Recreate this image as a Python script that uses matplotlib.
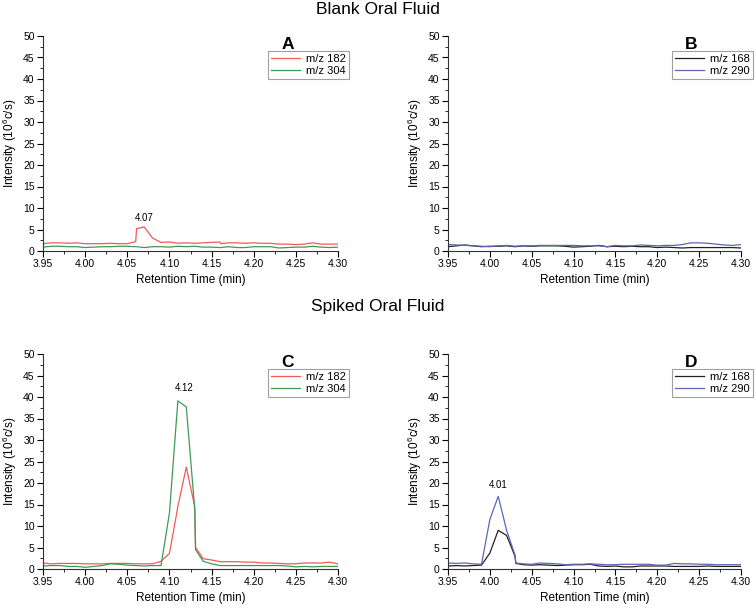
import numpy as np
import matplotlib
matplotlib.use("Agg")
import matplotlib.pyplot as plt
from matplotlib.ticker import MultipleLocator

plt.rcParams['font.family'] = ['Liberation Sans', 'DejaVu Sans']
plt.rcParams['mathtext.fontset'] = 'custom'
plt.rcParams['mathtext.rm'] = 'Liberation Sans'

# retention time grid (min); extra points where the trace jumps vertically
t_a = [3.95, 3.96, 3.97, 3.98, 3.99, 4.00, 4.01, 4.02, 4.03, 4.04, 4.05, 4.06, 4.061, 4.07, 4.08,
       4.09, 4.10, 4.11, 4.12, 4.13, 4.14, 4.15, 4.16, 4.161, 4.17, 4.18, 4.19, 4.20, 4.21, 4.22,
       4.23, 4.24, 4.25, 4.26, 4.27, 4.28, 4.29, 4.30]
a_182 = [1.7, 1.9, 1.9, 1.8, 1.9, 1.7, 1.7, 1.7, 1.8, 1.7, 1.7, 2.2, 5.2, 5.6, 3.0,
         2.0, 2.1, 1.8, 1.9, 1.8, 1.9, 2.0, 2.1, 1.7, 1.9, 1.9, 1.8, 1.9, 1.8, 1.8,
         1.6, 1.6, 1.5, 1.6, 1.9, 1.6, 1.6, 1.6]
a_304 = [0.9, 1.1, 1.1, 1.0, 1.0, 0.8, 0.9, 1.0, 1.0, 1.1, 1.1, 1.0, 1.0, 0.8, 1.0,
         1.0, 0.9, 1.1, 1.0, 1.1, 0.9, 0.9, 0.8, 0.8, 1.0, 0.8, 0.8, 1.0, 1.0, 1.0,
         0.7, 0.8, 0.9, 0.9, 1.1, 0.9, 0.8, 0.9]

t_b = [3.95, 3.96, 3.97, 3.98, 3.99, 4.00, 4.01, 4.02, 4.03, 4.04, 4.05, 4.06, 4.07, 4.08, 4.09,
       4.10, 4.11, 4.12, 4.13, 4.14, 4.15, 4.16, 4.17, 4.18, 4.19, 4.20, 4.21, 4.22, 4.23, 4.24,
       4.25, 4.26, 4.27, 4.28, 4.29, 4.30]
b_168 = [1.0, 1.2, 1.4, 1.2, 1.0, 1.1, 1.1, 1.2, 1.0, 1.2, 1.1, 1.2, 1.2, 1.2, 1.1,
         0.9, 1.0, 1.1, 1.3, 1.0, 1.1, 1.0, 1.1, 1.0, 1.0, 0.8, 0.9, 0.8, 0.7, 0.8,
         0.8, 0.8, 0.8, 0.8, 0.8, 0.7]
b_290 = [1.5, 1.4, 1.3, 1.2, 1.1, 1.0, 1.2, 1.3, 1.1, 1.2, 1.2, 1.3, 1.3, 1.3, 1.3,
         1.3, 1.2, 1.2, 1.2, 1.0, 1.3, 1.2, 1.2, 1.4, 1.3, 1.2, 1.3, 1.3, 1.5, 1.9,
         1.9, 1.8, 1.6, 1.4, 1.3, 1.5]

t_c = [3.95, 3.96, 3.97, 3.98, 3.99, 4.00, 4.01, 4.02, 4.03, 4.04, 4.05, 4.06, 4.07, 4.08, 4.09,
       4.10, 4.11, 4.12, 4.13, 4.131, 4.14, 4.15, 4.16, 4.17, 4.18, 4.19, 4.20, 4.21, 4.22, 4.23,
       4.24, 4.25, 4.26, 4.27, 4.28, 4.29, 4.30]
c_182 = [1.4, 1.2, 1.3, 1.3, 1.3, 1.2, 1.2, 1.2, 1.3, 1.3, 1.3, 1.2, 1.2, 1.2, 1.8,
         3.6, 14.5, 23.7, 14.5, 5.0, 2.4, 2.1, 1.7, 1.7, 1.7, 1.6, 1.6, 1.4, 1.4, 1.3,
         1.2, 1.2, 1.4, 1.4, 1.4, 1.6, 1.2]
c_304 = [0.7, 0.8, 0.8, 0.6, 0.6, 0.4, 0.6, 0.8, 1.2, 1.1, 0.9, 0.8, 0.7, 0.8, 0.8,
         13.0, 39.1, 37.7, 14.0, 4.5, 1.8, 1.2, 0.8, 0.8, 0.8, 0.8, 0.8, 0.8, 0.8, 0.8,
         0.7, 0.5, 0.6, 0.5, 0.6, 0.6, 0.6]

t_d = [3.95, 3.96, 3.97, 3.98, 3.99, 4.00, 4.01, 4.02, 4.03, 4.031, 4.04, 4.05, 4.06, 4.07, 4.08,
       4.09, 4.10, 4.11, 4.12, 4.13, 4.14, 4.15, 4.16, 4.17, 4.18, 4.19, 4.20, 4.21, 4.22, 4.23,
       4.24, 4.25, 4.26, 4.27, 4.28, 4.29, 4.30]
d_168 = [0.7, 0.8, 0.7, 0.8, 0.9, 3.7, 9.0, 7.8, 3.0, 1.3, 1.0, 0.9, 1.0, 0.9, 0.8,
         0.9, 1.0, 1.0, 1.1, 0.7, 0.6, 0.7, 0.5, 0.5, 0.7, 0.7, 0.7, 0.7, 0.6, 0.6,
         0.6, 0.6, 0.7, 0.6, 0.6, 0.6, 0.6]
d_290 = [1.4, 1.3, 1.4, 1.2, 1.1, 11.5, 16.9, 9.0, 3.3, 1.4, 1.2, 1.1, 1.4, 1.3, 1.2,
         1.0, 1.1, 1.1, 1.2, 1.1, 1.0, 1.0, 1.1, 1.1, 1.1, 1.1, 0.9, 0.9, 1.3, 1.2,
         1.2, 1.1, 1.1, 1.0, 1.0, 1.0, 1.0]

RED = "#f25a5a"
GREEN = "#3f9a55"
BLACK = "#222222"
BLUE = "#5a68b4"

W, H = 756, 609
fig = plt.figure(figsize=(W / 100, H / 100), dpi=100)


def make_ax(left, top, right, bottom):
    ax = fig.add_axes([left / W, 1 - bottom / H, (right - left) / W, (bottom - top) / H])
    ax.set_xlim(3.95, 4.30)
    ax.set_ylim(0, 50)
    ax.spines['top'].set_visible(False)
    ax.spines['right'].set_visible(False)
    for s in ('left', 'bottom'):
        ax.spines[s].set_linewidth(0.8)
        ax.spines[s].set_color('#333333')
    ax.xaxis.set_major_locator(MultipleLocator(0.05))
    ax.xaxis.set_minor_locator(MultipleLocator(0.025))
    ax.yaxis.set_major_locator(MultipleLocator(5))
    ax.yaxis.set_minor_locator(MultipleLocator(2.5))
    ax.tick_params(which='major', direction='out', length=4, width=0.8, labelsize=7.5, pad=2)
    ax.tick_params(which='minor', direction='out', length=2, width=0.6)
    ax.xaxis.set_major_formatter(matplotlib.ticker.FormatStrFormatter('%.2f'))
    ax.set_xlabel("Retention Time (min)", fontsize=8.5, labelpad=3)
    ax.set_ylabel("Intensity (10$^6$c/s)", fontsize=8.5, labelpad=3)
    return ax


def finish(ax, letter, handles_at):
    ax.text(0.83, 0.995, letter, transform=ax.transAxes, fontsize=12.5,
            fontweight='bold', ha='center', va='top')
    leg = ax.legend(loc='upper right', bbox_to_anchor=handles_at, fontsize=8,
                    frameon=True, fancybox=False, borderaxespad=0,
                    handlelength=2.6, handletextpad=0.5, borderpad=0.3,
                    labelspacing=0.12)
    leg.get_frame().set_edgecolor('#888888')
    leg.get_frame().set_linewidth(0.8)


ax_a = make_ax(43, 36, 338, 251)
ax_a.plot(t_a, a_182, color=RED, lw=0.9, label="m/z 182")
ax_a.plot(t_a, a_304, color=GREEN, lw=0.9, label="m/z 304")
ax_a.text(4.07, 6.6, "4.07", fontsize=7, ha='center', va='bottom')
finish(ax_a, "A", (1.037, 0.93))

ax_b = make_ax(448, 36, 741, 251)
ax_b.plot(t_b, b_168, color=BLACK, lw=0.9, label="m/z 168")
ax_b.plot(t_b, b_290, color=BLUE, lw=0.9, label="m/z 290")
finish(ax_b, "B", (1.04, 0.93))

ax_c = make_ax(43, 354, 338, 569)
ax_c.plot(t_c, c_182, color=RED, lw=0.9, label="m/z 182")
ax_c.plot(t_c, c_304, color=GREEN, lw=0.9, label="m/z 304")
ax_c.text(4.117, 41.0, "4.12", fontsize=7, ha='center', va='bottom')
finish(ax_c, "C", (1.037, 0.93))

ax_d = make_ax(448, 354, 741, 569)
ax_d.plot(t_d, d_168, color=BLACK, lw=0.9, label="m/z 168")
ax_d.plot(t_d, d_290, color=BLUE, lw=0.9, label="m/z 290")
ax_d.text(4.01, 18.3, "4.01", fontsize=7, ha='center', va='bottom')
finish(ax_d, "D", (1.04, 0.93))

fig.text(378 / W, 1 - 10 / H, "Blank Oral Fluid", fontsize=12.5, ha='center', va='center')
fig.text(378 / W, 1 - 306 / H, "Spiked Oral Fluid", fontsize=12.5, ha='center', va='center')

fig.savefig("out.png", dpi=100)
